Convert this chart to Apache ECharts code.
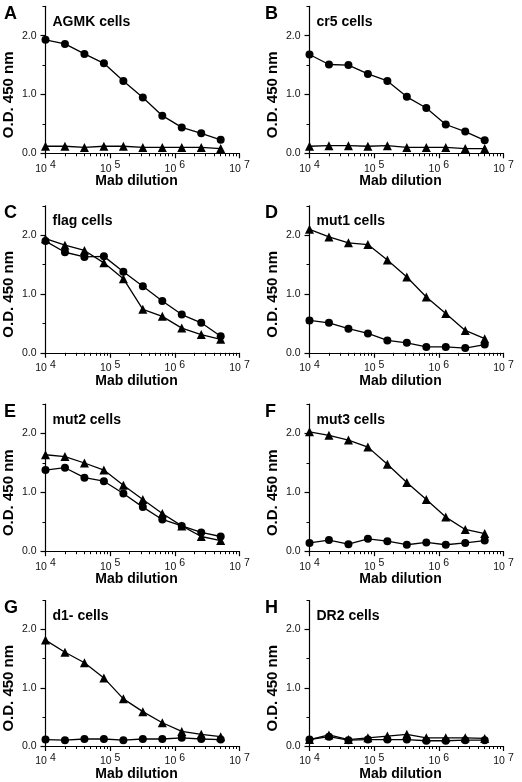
<!DOCTYPE html>
<html><head><meta charset="utf-8">
<script src="https://cdn.jsdelivr.net/npm/echarts@6/dist/echarts.min.js"></script>
<style>html,body{margin:0;padding:0;background:#fff}#c{width:522px;height:782px}</style>
</head><body><div id="c"></div>
<script>
// ---- data ----
const dilutions = [10000, 20000, 40000, 80000, 160000, 320000, 640000, 1280000, 2560000, 5120000];
const panelLetters = ['A','B','C','D','E','F','G','H'];
const panelTitles = ['AGMK cells','cr5 cells','flag cells','mut1 cells','mut2 cells','mut3 cells','d1- cells','DR2 cells'];
const circlesA   = [1.93,1.86,1.69,1.53,1.23,0.95,0.64,0.44,0.34,0.23];
const trianglesA = [0.12,0.12,0.10,0.12,0.12,0.10,0.10,0.10,0.10,0.08];
const circlesB   = [1.68,1.51,1.50,1.35,1.23,0.96,0.77,0.49,0.37,0.22];
const trianglesB = [0.12,0.13,0.13,0.12,0.13,0.10,0.10,0.10,0.08,0.08];
const circlesC   = [1.90,1.71,1.63,1.64,1.38,1.13,0.88,0.65,0.51,0.28];
const trianglesC = [1.94,1.83,1.74,1.53,1.26,0.74,0.62,0.42,0.31,0.23];
const circlesD   = [0.55,0.51,0.41,0.33,0.21,0.17,0.10,0.10,0.08,0.14];
const trianglesD = [2.10,1.97,1.87,1.84,1.58,1.29,0.95,0.67,0.38,0.24];
const circlesE   = [1.38,1.42,1.25,1.19,0.98,0.75,0.54,0.43,0.32,0.25];
const trianglesE = [1.64,1.61,1.50,1.38,1.12,0.88,0.64,0.43,0.25,0.18];
const circlesF   = [0.14,0.19,0.12,0.21,0.17,0.11,0.15,0.11,0.14,0.18];
const trianglesF = [2.03,1.97,1.89,1.77,1.48,1.17,0.88,0.58,0.37,0.30];
const circlesG   = [0.11,0.10,0.12,0.12,0.10,0.12,0.12,0.14,0.12,0.11];
const trianglesG = [1.82,1.61,1.43,1.17,0.81,0.59,0.40,0.25,0.20,0.16];
const circlesH   = [0.11,0.16,0.10,0.11,0.11,0.11,0.09,0.09,0.10,0.10];
const trianglesH = [0.11,0.19,0.11,0.14,0.17,0.20,0.14,0.14,0.14,0.13];
const xMajorTicks = [1e4, 1e5, 1e6, 1e7];
const xMinorTicks = [2e4,3e4,4e4,5e4,6e4,7e4,8e4,9e4,2e5,3e5,4e5,5e5,6e5,7e5,8e5,9e5,2e6,3e6,4e6,5e6,6e6,7e6,8e6,9e6];
const yTickValues = [0, 1, 2];
const yTickLabels = ['0.0', '1.0', '2.0'];
const yMinorTicks = [0.5, 1.5, 2.5];
const xAxisTitle = 'Mab dilution';
const yAxisTitle = 'O.D. 450 nm';

const circleSets = [circlesA,circlesB,circlesC,circlesD,circlesE,circlesF,circlesG,circlesH];
const triangleSets = [trianglesA,trianglesB,trianglesC,trianglesD,trianglesE,trianglesF,trianglesG,trianglesH];

// ---- layout ----
const colLeft = [45.5, 309.5];
const colX0 = [0, 261];
const gridW = 194;
const rowBottom = [153.3, 352.8, 551.2, 747.5];
const gridH = 147;
const FONT = '"Liberation Sans", Arial, Helvetica, sans-serif';

const grids = [], xAxes = [], yAxes = [], series = [], titles = [];
for (let p = 0; p < 8; p++) {
  const col = p % 2, row = Math.floor(p / 2);
  const left = colLeft[col];
  const top = rowBottom[row] - gridH;
  grids.push({left: left, top: top, width: gridW, height: gridH});
  // major x axis
  xAxes.push({
    type: 'log', logBase: 10, min: 1e4, max: 1e7, gridIndex: p, position: 'bottom',
    axisLine: {show: true, onZero: false, lineStyle: {color: '#000', width: 1.2}},
    axisTick: {show: true, length: 5, customValues: xMajorTicks, lineStyle: {color: '#000', width: 1.2}},
    minorTick: {show: false},
    splitLine: {show: false},
    axisLabel: {
      customValues: xMajorTicks, margin: 6.5,
      formatter: v => '{a|10}{s| ' + Math.round(Math.log10(v)) + '}',
      rich: {
        a: {fontFamily: FONT, fontSize: 10.5, color: '#111', lineHeight: 14.5, verticalAlign: 'bottom'},
        s: {fontFamily: FONT, fontSize: 10.5, color: '#111', lineHeight: 14.5, verticalAlign: 'top'}
      }
    },
    name: xAxisTitle, nameLocation: 'middle', nameGap: 21, nameMoveOverlap: false,
    nameTextStyle: {fontFamily: FONT, fontSize: 14, fontWeight: 'bold', color: '#000', padding: [0, 12, 0, 0]}
  });
  // minor x ticks
  xAxes.push({
    type: 'log', logBase: 10, min: 1e4, max: 1e7, gridIndex: p, position: 'bottom',
    axisLine: {show: false, onZero: false},
    axisTick: {show: true, length: 3, customValues: xMinorTicks, lineStyle: {color: '#000', width: 1}},
    axisLabel: {show: false}, splitLine: {show: false}
  });
  // major y axis
  yAxes.push({
    type: 'value', min: 0, max: 2.5, gridIndex: p, position: 'left',
    axisLine: {show: true, onZero: false, lineStyle: {color: '#000', width: 1.2}},
    axisTick: {show: true, length: 5, customValues: yTickValues, lineStyle: {color: '#000', width: 1.2}},
    splitLine: {show: false},
    axisLabel: {
      customValues: yTickValues, margin: 9,
      formatter: v => yTickLabels[yTickValues.indexOf(v)],
      fontFamily: FONT, fontSize: 10.5, color: '#111'
    },
    name: yAxisTitle, nameLocation: 'middle', nameGap: 29, nameRotate: 90, nameMoveOverlap: false,
    nameTextStyle: {fontFamily: FONT, fontSize: 15, fontWeight: 'bold', color: '#000', padding: [0, 30, 0, 0]}
  });
  // minor y ticks
  yAxes.push({
    type: 'value', min: 0, max: 2.5, gridIndex: p, position: 'left',
    axisLine: {show: false, onZero: false},
    axisTick: {show: true, length: 3, customValues: yMinorTicks, lineStyle: {color: '#000', width: 1}},
    axisLabel: {show: false}, splitLine: {show: false}
  });
  const xi = p * 2, yi = p * 2;
  const common = {
    type: 'line', xAxisIndex: xi, yAxisIndex: yi,
    lineStyle: {color: '#000', width: 1.3},
    itemStyle: {color: '#000'},
    emphasis: {disabled: true}, silent: true
  };
  series.push(Object.assign({}, common, {
    name: 'triangles' + p, symbol: 'triangle', symbolSize: 9,
    data: dilutions.map((d, i) => [d, triangleSets[p][i]])
  }));
  series.push(Object.assign({}, common, {
    name: 'circles' + p, symbol: 'circle', symbolSize: 8,
    data: dilutions.map((d, i) => [d, circleSets[p][i]])
  }));
  titles.push({
    text: panelLetters[p], left: colX0[col] + 4, top: top - 1.5, padding: 0,
    textStyle: {fontFamily: FONT, fontSize: 18, fontWeight: 'bold', color: '#000'}
  });
  titles.push({
    text: panelTitles[p], left: left + 7, top: top + 8.5, padding: 0,
    textStyle: {fontFamily: FONT, fontSize: 14, fontWeight: 'bold', color: '#000'}
  });
}

const chart = echarts.init(document.getElementById('c'), null, {renderer: 'canvas'});
chart.setOption({
  animation: false,
  backgroundColor: '#fff',
  title: titles,
  grid: grids,
  xAxis: xAxes,
  yAxis: yAxes,
  series: series
});
</script></body></html>
